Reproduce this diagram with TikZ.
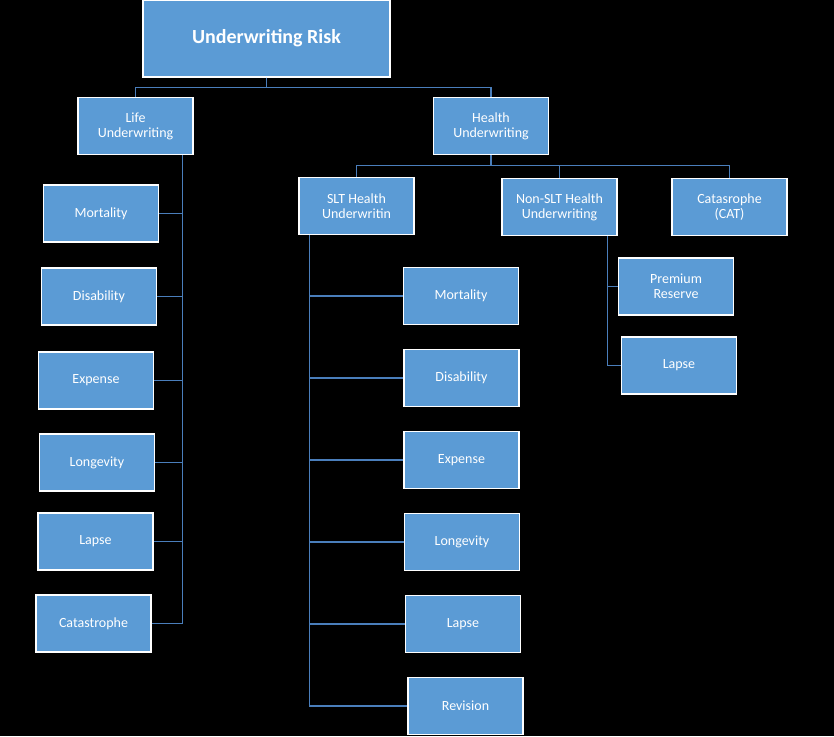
\documentclass[tikz,border=0pt]{standalone}
\usepackage{fontspec}
\setmainfont{Carlito}
\definecolor{boxblue}{HTML}{5B9BD5}
\definecolor{linkblue}{HTML}{4A7EBB}
\tikzset{
  riskbox/.style={rectangle,fill=boxblue,draw=white,line width=1.3pt,text=white,
    minimum width=115pt,minimum height=57pt,align=center,font=\fontsize{14}{15}\selectfont,inner sep=1pt},
  link/.style={draw=linkblue,line width=1.3pt}
}
\begin{document}
\begin{tikzpicture}[x=1pt,y=-1pt]
  \fill[black] (0,0) rectangle (834,736);
  \useasboundingbox (0,0) rectangle (834,736);
  % top level
  \node [riskbox,minimum width=247pt,minimum height=77pt,font=\fontsize{20}{22}\selectfont\bfseries] (top) at (266.5,38.5) {Underwriting Risk};
  \node [riskbox] (life) at (135.5,126) {Life\\Underwriting};
  \node [riskbox] (health) at (491,126) {Health\\Underwriting};
  % life modules
  \node [riskbox] (lmort) at (101,213.5) {Mortality};
  \node [riskbox] (ldis) at (99,296.5) {Disability};
  \node [riskbox] (lexp) at (96,380.5) {Expense};
  \node [riskbox] (llong) at (97,462.5) {Longevity};
  \node [riskbox] (llapse) at (95.5,541.5) {Lapse};
  \node [riskbox] (lcat) at (93.5,623.5) {Catastrophe};
  % health modules
  \node [riskbox] (slt) at (356.5,206) {SLT Health\\Underwritin};
  \node [riskbox] (nslt) at (559.5,207) {Non-SLT Health\\Underwriting};
  \node [riskbox] (hcat) at (729.5,207) {Catasrophe\\(CAT)};
  \node [riskbox] (smort) at (461,296) {Mortality};
  \node [riskbox] (sdis) at (461.5,378) {Disability};
  \node [riskbox] (sexp) at (461.5,460) {Expense};
  \node [riskbox] (slong) at (462,542) {Longevity};
  \node [riskbox] (slapse) at (463,624) {Lapse};
  \node [riskbox] (srev) at (465.5,706) {Revision};
  \node [riskbox] (nprem) at (676,286.5) {Premium\\Reserve};
  \node [riskbox] (nlapse) at (679,365.5) {Lapse};
  % connectors
  \draw [link] (top.south) -- ++(0,10) -| (life.north);
  \draw [link] (top.south) -- ++(0,10) -| (health.north);
  \foreach \n in {lmort,ldis,lexp,llong,llapse,lcat}
    \draw [link] ([xshift=-11]life.south east) |- (\n.east);
  \foreach \n in {slt,nslt,hcat}
    \draw [link] (health.south) -- ++(0,10) -| (\n.north);
  \foreach \n in {smort,sdis,sexp,slong,slapse,srev}
    \draw [link] ([xshift=11]slt.south west) |- (\n.west);
  \foreach \n in {nprem,nlapse}
    \draw [link] ([xshift=-10]nslt.south east) |- (\n.west);
\end{tikzpicture}
\end{document}
